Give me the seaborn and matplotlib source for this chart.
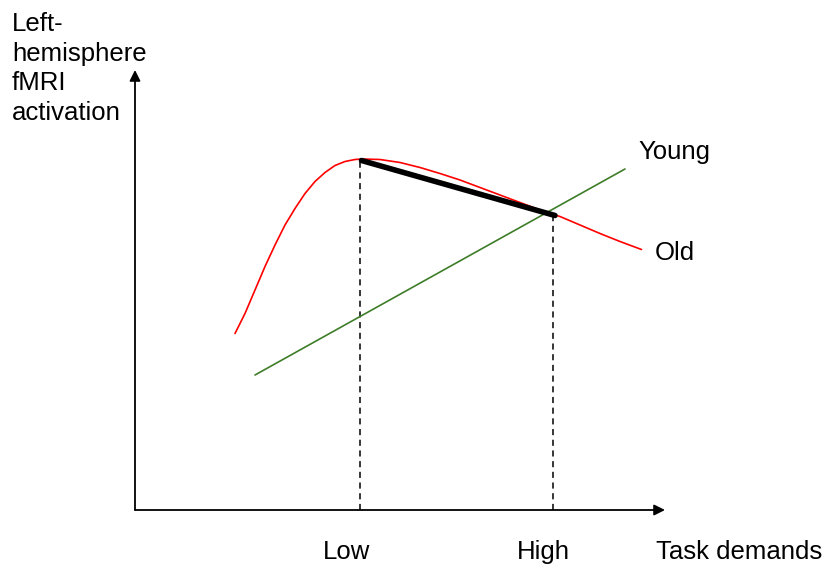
import matplotlib
matplotlib.use("Agg")
import matplotlib.pyplot as plt
import seaborn as sns
import pandas as pd

# Data (task demand units on x, activation units on y)
old_x = [2.0, 2.2, 2.4, 2.6, 2.8, 3.0, 3.2, 3.4, 3.6, 3.8, 4.0, 4.2, 4.4, 4.54,
         4.9, 5.3, 5.7, 6.1, 6.5, 6.9, 7.3, 7.7, 8.1, 8.5, 8.9, 9.3, 9.7, 10.13]
old_y = [3.53, 3.93, 4.4, 4.87, 5.3, 5.7, 6.03, 6.33, 6.57, 6.75, 6.89, 6.97, 7.01, 7.02,
         7.01, 6.95, 6.85, 6.73, 6.6, 6.45, 6.3, 6.15, 6.0, 5.87, 5.7, 5.53, 5.37, 5.21]
young_x = [2.4, 9.8]
young_y = [2.7, 6.82]
seg_x = [4.53, 8.4]
seg_y = [6.99, 5.89]
tick_pos = [4.5, 8.36]
tick_top = [7.0, 5.92]
tick_labels = ["Low", "High"]
tick_label_x = [4.24, 8.16]
y_label = "Left-\nhemisphere\nfMRI\nactivation"
x_label = "Task demands"

sns.set_theme(style="white")
plt.rcParams['font.family'] = ['Liberation Sans', 'DejaVu Sans']

fig = plt.figure(figsize=(8.26, 5.66), dpi=100)
ax = fig.add_axes([0, 0, 1, 1])
ax.set_xlim(-2.7, 13.82)
ax.set_ylim(-1.12, 10.2)
ax.axis("off")

df_old = pd.DataFrame({"x": old_x, "y": old_y})
df_young = pd.DataFrame({"x": young_x, "y": young_y})
df_seg = pd.DataFrame({"x": seg_x, "y": seg_y})

# dashed verticals
for xp, yt in zip(tick_pos, tick_top):
    ax.plot([xp, xp], [0, yt], color="black", lw=1.1, ls=(0, (4, 3)), zorder=1)

sns.lineplot(data=df_old, x="x", y="y", color="#ff0000", lw=1.2, sort=False, ax=ax, zorder=3)
sns.lineplot(data=df_young, x="x", y="y", color="#3e7d27", lw=1.2, sort=False, ax=ax, zorder=2)
sns.lineplot(data=df_seg, x="x", y="y", color="black", lw=4.0, sort=False, ax=ax, zorder=4)

# axes arrows
arrow = dict(arrowstyle="-|>", color="black", lw=1.3, mutation_scale=16, shrinkA=0, shrinkB=0)
ax.annotate("", xy=(0, 8.8), xytext=(0, 0), arrowprops=arrow)
ax.annotate("", xy=(10.6, 0), xytext=(0, 0), arrowprops=arrow)

fs = 18.5
ax.text(-2.46, 9.96, y_label, fontsize=fs, ha="left", va="top", linespacing=1.3, color="black")
ax.text(10.06, 7.16, "Young", fontsize=fs, ha="left", va="center", color="black")
ax.text(10.4, 5.14, "Old", fontsize=fs, ha="left", va="center", color="black")
for lx, lab in zip(tick_label_x, tick_labels):
    ax.text(lx, -0.84, lab, fontsize=fs, ha="center", va="center", color="black")
ax.text(10.42, -0.84, x_label, fontsize=fs, ha="left", va="center", color="black")

fig.savefig("out.png", dpi=100)
